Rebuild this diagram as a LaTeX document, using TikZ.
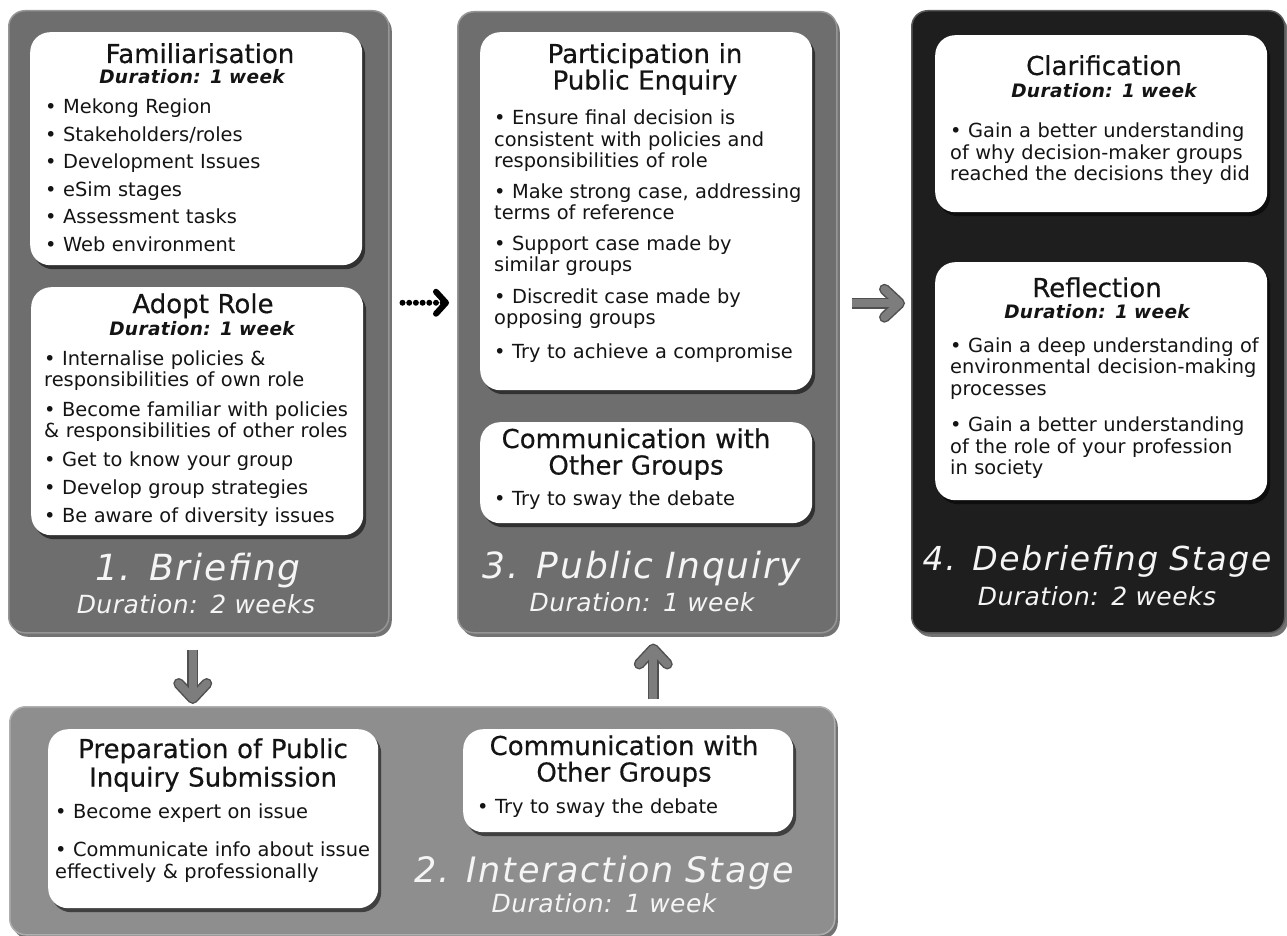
\documentclass[tikz,border=0pt]{standalone}
\usepackage{fontspec}
\setmainfont{DejaVu Sans}
\newfontfamily\hdfont{DejaVu Sans}[FakeBold=0.5]
\newfontfamily\ttlfont{DejaVu Sans}[LetterSpace=5]
\newfontfamily\subfont{DejaVu Sans}[LetterSpace=2]
\newfontfamily\durfont{DejaVu Sans}[LetterSpace=2]
\usetikzlibrary{shadows,arrows.meta}
\definecolor{panelA}{RGB}{110,110,110}
\definecolor{panelB}{RGB}{142,142,142}
\definecolor{panelC}{RGB}{30,30,30}
\definecolor{edgeA}{RGB}{150,150,150}
\definecolor{edgeB}{RGB}{175,175,175}
\definecolor{edgeC}{RGB}{90,90,90}
\definecolor{arrgray}{RGB}{125,125,125}
\definecolor{arrdark}{RGB}{80,80,80}
\definecolor{ink}{RGB}{20,20,20}
\definecolor{ttlwhite}{RGB}{245,245,245}
\begin{document}
\begin{tikzpicture}[x=1pt,y=-1pt,
  panel/.style={rectangle, rounded corners=16pt, inner sep=0pt, anchor=north west, line width=1.5pt,
    drop shadow={shadow xshift=3pt, shadow yshift=-4pt, opacity=0.55, fill=black}},
  wbox/.style={rectangle, rounded corners=20pt, inner sep=0pt, anchor=north west, fill=white,
    drop shadow={shadow xshift=3pt, shadow yshift=-4pt, opacity=0.55, fill=black}},
  hd/.style={anchor=base, text width=330pt, align=center, inner sep=0pt, text=ink,
    font=\hdfont\fontsize{26}{26.5}\selectfont},
  dur/.style={anchor=base, text width=330pt, align=center, inner sep=0pt, text=ink,
    font=\durfont\bfseries\itshape\fontsize{18.5}{20}\selectfont},
  bd/.style={anchor=base west, text width=340pt, align=left, inner sep=0pt, text=ink,
    font=\fontsize{19.4}{21.5}\selectfont},
  ttl/.style={anchor=base, text width=440pt, align=center, inner sep=0pt, text=ttlwhite,
    font=\ttlfont\itshape\fontsize{36}{38}\selectfont},
  sub/.style={anchor=base, text width=320pt, align=center, inner sep=0pt, text=ttlwhite,
    font=\subfont\itshape\fontsize{25}{27}\selectfont},
  garrowbg/.style={line width=11pt, draw=arrdark, -{Straight Barb[length=15pt, width=28pt, round]}},
  garrowfg/.style={line width=8pt, draw=arrgray, -{Straight Barb[length=15pt, width=28pt, round]}},
  darrow/.style={line width=6pt, draw=black, line cap=round, dash pattern=on 0pt off 6.7pt,
    -{Straight Barb[length=10pt, width=22pt, round]}}
]
\useasboundingbox (0,0) rectangle (1287,936);
\fill[white] (0,0) rectangle (1287,936);

% panels
\node[panel, fill=panelA, draw=edgeA, minimum width=380pt, minimum height=622pt] (p1) at (8,10) {};
\node[panel, fill=panelA, draw=edgeA, minimum width=379pt, minimum height=621pt] (p3) at (457,11) {};
\node[panel, fill=panelC, draw=edgeC, minimum width=373pt, minimum height=622pt] (p4) at (911,10) {};
\node[panel, fill=panelB, draw=edgeB, minimum width=825pt, minimum height=228pt] (p2) at (9,706) {};

% white boxes
\node[wbox, minimum width=332pt, minimum height=233pt] (fam) at (30,32) {};
\node[wbox, minimum width=332pt, minimum height=248pt] (adopt) at (31,287) {};
\node[wbox, minimum width=332pt, minimum height=358pt] (part) at (480,32) {};
\node[wbox, minimum width=332pt, minimum height=101pt] (commA) at (480,422) {};
\node[wbox, minimum width=332pt, minimum height=177pt] (clar) at (935,35) {};
\node[wbox, minimum width=332pt, minimum height=238pt] (refl) at (935,262) {};
\node[wbox, minimum width=330pt, minimum height=179pt] (prep) at (48,729) {};
\node[wbox, minimum width=330pt, minimum height=103pt] (commB) at (463,729) {};

% panel 1 texts
\node[hd] (famH) at (200,63) {Familiarisation};
\node[dur] (famD) at (192,84) {Duration: 1 week};
\node[bd] (famL) at (45,114) {• Mekong Region\\[6pt]• Stakeholders/roles\\[6pt]• Development Issues\\[6pt]• eSim stages\\[6pt]• Assessment tasks\\[6pt]• Web environment};

\node[hd] (adoptH) at (203,313) {Adopt Role};
\node[dur] (adoptD) at (202,335) {Duration: 1 week};
\node[bd] (adoptL) at (44,365) {• Internalise policies \&\\responsibilities of own role\\[8pt]• Become familiar with policies\\\& responsibilities of other roles\\[7pt]• Get to know your group\\[7pt]• Develop group strategies\\[6pt]• Be aware of diversity issues};

\node[ttl] (t1) at (198,580) {1. Briefing};
\node[sub] (s1) at (196,613) {Duration: 2 weeks};

% panel 3 texts
\node[hd] (partH) at (645,63) {Participation in\\Public Enquiry};
\node[bd] (partL) at (494,125) {• Ensure final decision is\\consistent with policies and\\responsibilities of role\\[9pt]• Make strong case, addressing\\terms of reference\\[9pt]• Support case made by\\similar groups\\[10pt]• Discredit case made by\\opposing groups\\[12pt]• Try to achieve a compromise};

\node[hd] (commAH) at (636,448) {Communication with\\Other Groups};
\node[bd] (commAL) at (494,505) {• Try to sway the debate};

\node[ttl] (t3) at (642,578) {3. Public Inquiry};
\node[sub] (s3) at (642,611) {Duration: 1 week};

% panel 4 texts
\node[hd] (clarH) at (1104,75) {Clarification};
\node[dur] (clarD) at (1104,98) {Duration: 1 week};
\node[bd] (clarL) at (950,138) {• Gain a better understanding\\of why decision-maker groups\\reached the decisions they did};

\node[hd] (reflH) at (1097,297) {Reflection};
\node[dur] (reflD) at (1097,318) {Duration: 1 week};
\node[bd] (reflL) at (950,352) {• Gain a deep understanding of\\environmental decision-making\\processes\\[15pt]• Gain a better understanding\\of the role of your profession\\in society};

\node[ttl, font=\ttlfont\itshape\fontsize{33}{35}\selectfont] (t4) at (1097,570) {4. Debriefing Stage};
\node[sub] (s4) at (1097,605) {Duration: 2 weeks};

% panel 2 texts
\node[hd] (prepH) at (213,758) {Preparation of Public\\[2pt]Inquiry Submission};
\node[bd] (prepL) at (55,818) {• Become expert on issue\\[17pt]• Communicate info about issue\\effectively \& professionally};

\node[hd] (commBH) at (624,755) {Communication with\\Other Groups};
\node[bd] (commBL) at (477,813) {• Try to sway the debate};

\node[ttl, font=\ttlfont\itshape\fontsize{35}{37}\selectfont] (t2) at (604,882) {2. Interaction Stage};
\node[sub] (s2) at (604,912) {Duration: 1 week};

% arrows
\draw[darrow, shorten <=13pt, shorten >=8pt] ([yshift=19pt]p1.east) -- ([yshift=19pt]p1.east -| p3.west);

\draw[garrowbg, shorten <=14pt, shorten >=6pt] ([yshift=19pt]p3.east) -- ([yshift=19pt]p3.east -| p4.west);
\draw[garrowfg, shorten <=14pt, shorten >=7.5pt] ([yshift=19pt]p3.east) -- ([yshift=19pt]p3.east -| p4.west);

\draw[garrowbg, shorten <=16pt, shorten >=2pt] ([xshift=-6pt]p1.south) -- ([xshift=-6pt]p1.south |- p2.north);
\draw[garrowfg, shorten <=16pt, shorten >=3.5pt] ([xshift=-6pt]p1.south) -- ([xshift=-6pt]p1.south |- p2.north);

\draw[garrowbg, shorten <=7pt, shorten >=10pt] ([xshift=6pt]p3.south |- p2.north) -- ([xshift=6pt]p3.south);
\draw[garrowfg, shorten <=7pt, shorten >=11.5pt] ([xshift=6pt]p3.south |- p2.north) -- ([xshift=6pt]p3.south);
\end{tikzpicture}
\end{document}
